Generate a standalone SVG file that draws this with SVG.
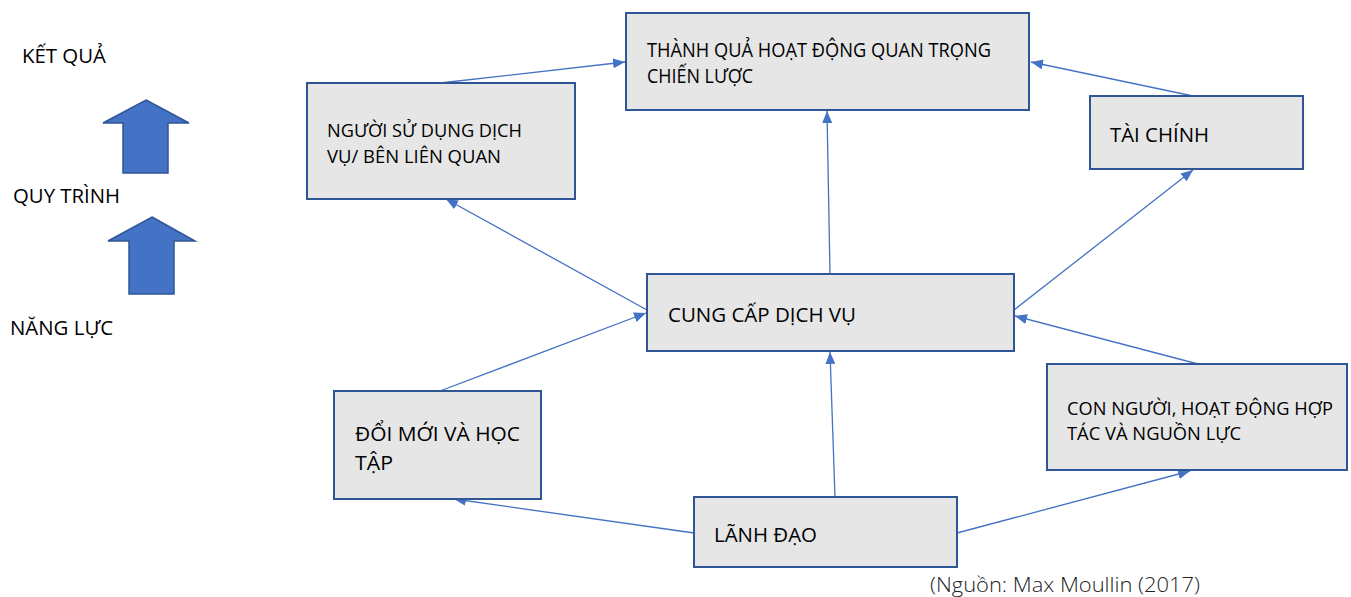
<svg xmlns="http://www.w3.org/2000/svg" width="1351" height="597" viewBox="0 0 1351 597">
<defs>
<marker id="ah" viewBox="0 0 12 10" refX="12" refY="5" markerWidth="12" markerHeight="10" markerUnits="userSpaceOnUse" orient="auto">
<path d="M0,0 L12,5 L0,10 Z" fill="#4472c4"/>
</marker>
<style>
.box{fill:#e6e6e6;stroke:#2f5597;stroke-width:2}
.t{font-family:"Open Sans","Noto Sans",sans-serif;font-size:20px;fill:#000}
.ts{font-family:"Open Sans","Noto Sans",sans-serif;font-size:18.5px;fill:#000}
.c{stroke:#4472c4;stroke-width:1.3;fill:none;marker-end:url(#ah)}
.big{fill:#4472c4;stroke:#2f5597;stroke-width:1.5}
</style>
</defs>
<rect width="1351" height="597" fill="#fff"/>

<g id="legend">
<text class="t" x="22" y="63" textLength="84" lengthAdjust="spacingAndGlyphs">KẾT QUẢ</text>
<text class="t" x="13" y="203" textLength="107" lengthAdjust="spacingAndGlyphs">QUY TRÌNH</text>
<text class="t" x="10" y="335" textLength="103" lengthAdjust="spacingAndGlyphs">NĂNG LỰC</text>
<path class="big" d="M146,100 L189,123 L168,123 L168,173 L123,173 L123,123 L103,123 Z"/>
<path class="big" d="M152,217 L195,241 L174,241 L174,294 L129,294 L129,241 L108,241 Z"/>
</g>

<g id="connectors">
<line class="c" x1="440" y1="83" x2="625" y2="62"/>
<line class="c" x1="1193" y1="96" x2="1031" y2="62"/>
<line class="c" x1="830" y1="274" x2="827" y2="111"/>
<line class="c" x1="647" y1="310" x2="446" y2="199"/>
<line class="c" x1="1014" y1="310" x2="1193" y2="170"/>
<line class="c" x1="440" y1="391" x2="646" y2="313"/>
<line class="c" x1="1198" y1="364" x2="1015" y2="316"/>
<line class="c" x1="835" y1="497" x2="830" y2="352"/>
<line class="c" x1="694" y1="533" x2="454" y2="499"/>
<line class="c" x1="957" y1="533" x2="1190" y2="471"/>
</g>

<g id="n-thanhqua">
<rect class="box" x="626" y="13" width="403" height="97"/>
<text class="t" x="647" y="57" textLength="344" lengthAdjust="spacingAndGlyphs">THÀNH QUẢ HOẠT ĐỘNG QUAN TRỌNG</text>
<text class="t" x="647" y="83" textLength="106" lengthAdjust="spacingAndGlyphs">CHIẾN LƯỢC</text>
</g>

<g id="n-nguoisudung">
<rect class="box" x="307" y="83" width="268" height="116"/>
<text class="ts" x="327" y="137" textLength="195" lengthAdjust="spacingAndGlyphs">NGƯỜI SỬ DỤNG DỊCH</text>
<text class="ts" x="327" y="163" textLength="174" lengthAdjust="spacingAndGlyphs">VỤ/ BÊN LIÊN QUAN</text>
</g>

<g id="n-taichinh">
<rect class="box" x="1090" y="96" width="213" height="73"/>
<text class="t" x="1110" y="142" textLength="99" lengthAdjust="spacingAndGlyphs">TÀI CHÍNH</text>
</g>

<g id="n-cungcap">
<rect class="box" x="647" y="274" width="367" height="77"/>
<text class="t" x="668" y="322" textLength="188" lengthAdjust="spacingAndGlyphs">CUNG CẤP DỊCH VỤ</text>
</g>

<g id="n-doimoi">
<rect class="box" x="334" y="391" width="207" height="108"/>
<text class="t" x="355" y="441" textLength="165" lengthAdjust="spacingAndGlyphs">ĐỔI MỚI VÀ HỌC</text>
<text class="t" x="355" y="470" textLength="38" lengthAdjust="spacingAndGlyphs">TẬP</text>
</g>

<g id="n-connguoi">
<rect class="box" x="1047" y="364" width="300" height="106"/>
<text class="ts" x="1067" y="415" textLength="266" lengthAdjust="spacingAndGlyphs">CON NGƯỜI, HOẠT ĐỘNG HỢP</text>
<text class="ts" x="1067" y="440" textLength="174" lengthAdjust="spacingAndGlyphs">TÁC VÀ NGUỒN LỰC</text>
</g>

<g id="n-lanhdao">
<rect class="box" x="694" y="497" width="263" height="70"/>
<text class="t" x="714" y="542" textLength="103" lengthAdjust="spacingAndGlyphs">LÃNH ĐẠO</text>
</g>

<text x="930" y="592" font-family="Open Sans, Noto Sans, sans-serif" font-size="20" font-weight="300" fill="#222" textLength="270" lengthAdjust="spacingAndGlyphs">(Nguồn: Max Moullin (2017)</text>
</svg>
